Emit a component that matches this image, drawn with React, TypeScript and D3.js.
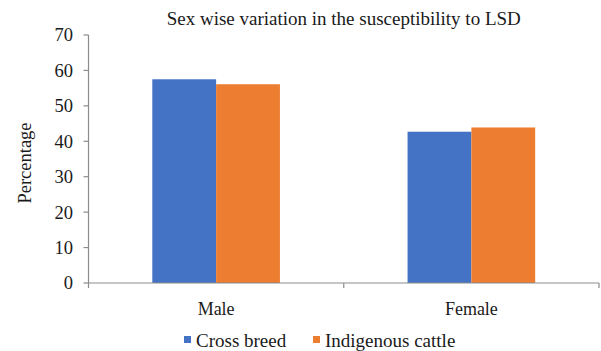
import React from "react";
import * as d3 from "d3";

const categories = ["Male", "Female"];
const seriesNames = ["Cross breed", "Indigenous cattle"];
const crossBreed = [57.5, 42.7];
const indigenous = [56.1, 43.9];
const yTicks = [0, 10, 20, 30, 40, 50, 60, 70];
const colors = ["#4472C4", "#ED7D31"];

export default function App() {
  const W = 601, H = 351;
  const left = 88.5, right = 599, top = 35, bottom = 283;
  const font = "Liberation Serif";
  const x = d3.scaleBand<string>().domain(categories).range([left, right]).paddingInner(0).paddingOuter(0);
  const y = d3.scaleLinear().domain([0, 70]).range([bottom, top]);
  const series = [crossBreed, indigenous];
  const bw = x.bandwidth() / 4;
  const axisColor = "#8c8c8c";
  const textColor = "#1a1a1a";
  return (
    <svg width={W} height={H} style={{ position: "absolute", left: 0, top: 0, background: "#fff" }}>
      <text x={(left + right) / 2} y={24.5} textAnchor="middle" fontFamily={font} fontSize={19} fill={textColor}>
        Sex wise variation in the susceptibility to LSD
      </text>
      {categories.map((c, i) =>
        series.map((s, j) => (
          <rect
            key={c + j}
            x={(x(c) as number) + x.bandwidth() / 2 - bw + j * bw}
            y={y(s[i])}
            width={bw}
            height={y(0) - y(s[i])}
            fill={colors[j]}
          />
        ))
      )}
      <line x1={left} x2={left} y1={top} y2={bottom} stroke={axisColor} strokeWidth={1.2} />
      {yTicks.map((t) => (
        <g key={t}>
          <line x1={left - 5} x2={left} y1={y(t)} y2={y(t)} stroke={axisColor} strokeWidth={1.2} />
          <text x={73} y={y(t)} dy="0.35em" textAnchor="end" fontFamily={font} fontSize={18.5} fill={textColor}>
            {t}
          </text>
        </g>
      ))}
      <line x1={left} x2={right} y1={bottom} y2={bottom} stroke={axisColor} strokeWidth={1.2} />
      {[...categories.map((c) => x(c) as number), right].map((v, i) => (
        <line key={i} x1={v} x2={v} y1={bottom} y2={bottom + 5} stroke={axisColor} strokeWidth={1.2} />
      ))}
      {categories.map((c) => (
        <text key={c} x={(x(c) as number) + x.bandwidth() / 2} y={315} textAnchor="middle" fontFamily={font} fontSize={18} fill={textColor}>
          {c}
        </text>
      ))}
      <text
        transform={`translate(31,${(top + bottom) / 2 + 4}) rotate(-90)`}
        textAnchor="middle"
        fontFamily={font}
        fontSize={18.5}
        fill={textColor}
      >
        Percentage
      </text>
      {seriesNames.map((n, j) => {
        const lx = j === 0 ? 184 : 313;
        return (
          <g key={n}>
            <rect x={lx} y={336} width={7} height={7} fill={colors[j]} />
            <text x={lx + 12} y={346.5} fontFamily={font} fontSize={19} fill={textColor}>
              {n}
            </text>
          </g>
        );
      })}
    </svg>
  );
}
